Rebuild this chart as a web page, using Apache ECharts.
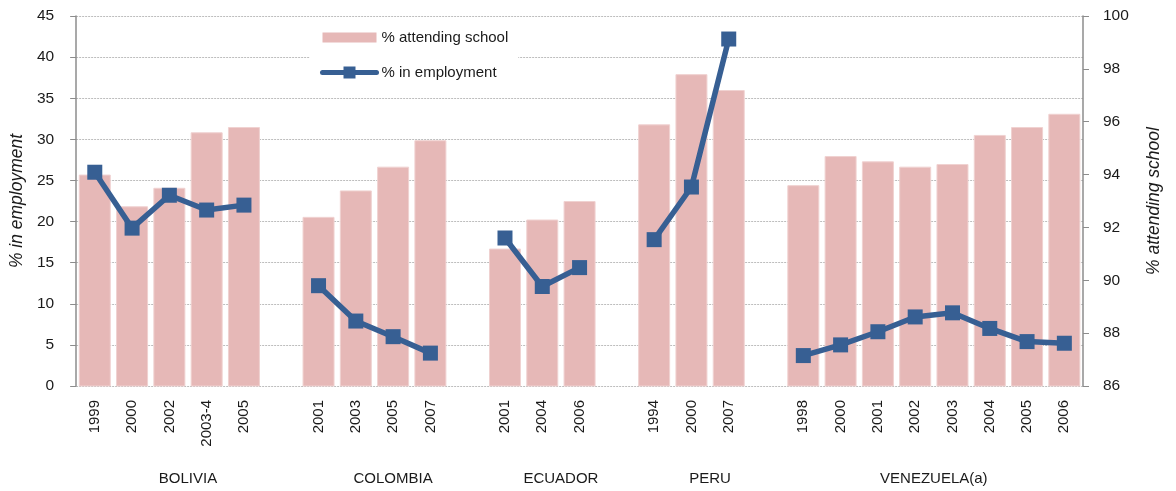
<!DOCTYPE html>
<html>
<head>
<meta charset="utf-8">
<script src="https://cdn.jsdelivr.net/npm/echarts@6/dist/echarts.min.js"></script>
<style>
  html, body { margin: 0; padding: 0; background: #fff; }
  #chart { width: 1176px; height: 491px; }
</style>
</head>
<body>
<div id="chart"></div>
<script>
// data, grouped by country
const countries = ['BOLIVIA', 'COLOMBIA', 'ECUADOR', 'PERU', 'VENEZUELA(a)'];
const years = [
  ['1999', '2000', '2002', '2003-4', '2005'],
  ['2001', '2003', '2005', '2007'],
  ['2001', '2004', '2006'],
  ['1994', '2000', '2007'],
  ['1998', '2000', '2001', '2002', '2003', '2004', '2005', '2006']
];
// % attending school (right axis)
const attending = [
  [94.0, 92.8, 93.5, 95.6, 95.8],
  [92.4, 93.4, 94.3, 95.3],
  [91.2, 92.3, 93.0],
  [95.9, 97.8, 97.2],
  [93.6, 94.7, 94.5, 94.3, 94.4, 95.5, 95.8, 96.3]
];
// % in employment (left axis)
const employment = [
  [26.0, 19.2, 23.2, 21.4, 22.0],
  [12.2, 7.9, 6.0, 4.0],
  [18.0, 12.1, 14.4],
  [17.8, 24.2, 42.2],
  [3.7, 5.0, 6.6, 8.4, 8.9, 7.0, 5.4, 5.2]
];
const leftTicks = { min: 0, max: 45, interval: 5 };
const rightTicks = { min: 86, max: 100, interval: 2 };

// flatten into one category axis, with an empty slot between countries
const categories = [];
const barData = [];
const lineData = [];
const groupCenters = [];
countries.forEach((c, i) => {
  const start = categories.length;
  years[i].forEach((y, j) => {
    categories.push(y);
    barData.push(attending[i][j]);
    lineData.push(employment[i][j]);
  });
  if (i < countries.length - 1) {
    categories.push('');
    barData.push(null);
    lineData.push(null);
  }
  groupCenters.push(start + (categories.length - start) / 2);
});

const FONT = '"Liberation Sans", Arial, sans-serif';
const TXT = '#1a1a1a';
const BLUE = '#375F93';
const PINK = '#E6B8B7';

const chart = echarts.init(document.getElementById('chart'), null, { renderer: 'canvas' });
chart.setOption({
  animation: false,
  textStyle: { fontFamily: FONT, color: TXT },
  grid: { left: 76, right: 93, top: 16, bottom: 105, containLabel: false },
  legend: {
    orient: 'vertical',
    left: 310,
    top: 24,
    padding: [6, 10, 8, 10],
    backgroundColor: '#fff',
    itemWidth: 54,
    itemHeight: 15,
    itemGap: 20,
    textStyle: { fontFamily: FONT, fontSize: 15, color: TXT },
    data: [
      // thinner swatch than the line item, padded inside a 54x15 box
      { name: '% attending school', icon: 'path://M0,0M0,2.5L54,2.5L54,12.5L0,12.5ZM54,15', itemStyle: { borderWidth: 0 } },
      { name: '% in employment', lineStyle: { width: 5, color: BLUE, cap: 'round' } }
    ]
  },
  xAxis: [
    {
      type: 'category',
      data: categories,
      boundaryGap: true,
      axisLine: { show: false },
      axisTick: { show: false },
      axisLabel: { interval: 0, rotate: 90, margin: 14, fontSize: 15, color: TXT, fontFamily: FONT }
    },
    {
      type: 'value',
      min: 0,
      max: categories.length,
      position: 'bottom',
      axisLine: { show: false },
      axisTick: { show: false },
      splitLine: { show: false },
      axisLabel: {
        customValues: groupCenters,
        margin: 85,
        fontSize: 15,
        color: TXT,
        fontFamily: FONT,
        formatter: v => countries[groupCenters.indexOf(v)] || ''
      }
    }
  ],
  yAxis: [
    {
      type: 'value',
      min: leftTicks.min,
      max: leftTicks.max,
      interval: leftTicks.interval,
      name: '% in employment',
      nameLocation: 'middle',
      nameGap: 50,
      nameTextStyle: { fontStyle: 'italic', fontSize: 17.5, color: TXT, fontFamily: FONT },
      axisLine: { show: true, lineStyle: { color: '#8c8c8c', width: 1.5 } },
      axisTick: { show: true, length: 6, lineStyle: { color: '#8c8c8c' } },
      axisLabel: { margin: 22, fontSize: 15.5, color: TXT, fontFamily: FONT },
      splitLine: { show: true, lineStyle: { color: '#bdbdbd', type: [2, 1], width: 1 } }
    },
    {
      type: 'value',
      min: rightTicks.min,
      max: rightTicks.max,
      interval: rightTicks.interval,
      position: 'right',
      name: '% attending school',
      nameLocation: 'middle',
      nameGap: 62,
      nameRotate: 90,
      nameTextStyle: { fontStyle: 'italic', fontSize: 17.5, color: TXT, fontFamily: FONT },
      axisLine: { show: true, lineStyle: { color: '#8c8c8c', width: 1.5 } },
      axisTick: { show: true, length: 6, lineStyle: { color: '#8c8c8c' } },
      axisLabel: { margin: 20, fontSize: 15.5, color: TXT, fontFamily: FONT },
      splitLine: { show: false }
    }
  ],
  series: [
    {
      name: '% attending school',
      type: 'bar',
      xAxisIndex: 0,
      yAxisIndex: 1,
      data: barData,
      barWidth: 32,
      itemStyle: { color: PINK, borderColor: '#F0D2D1', borderWidth: 1 },
      z: 2
    },
    {
      name: '% in employment',
      type: 'line',
      xAxisIndex: 0,
      yAxisIndex: 0,
      data: lineData,
      connectNulls: false,
      symbol: 'rect',
      symbolSize: 15,
      lineStyle: { color: BLUE, width: 5.5 },
      itemStyle: { color: BLUE },
      z: 3
    }
  ]
});
</script>
</body>
</html>
